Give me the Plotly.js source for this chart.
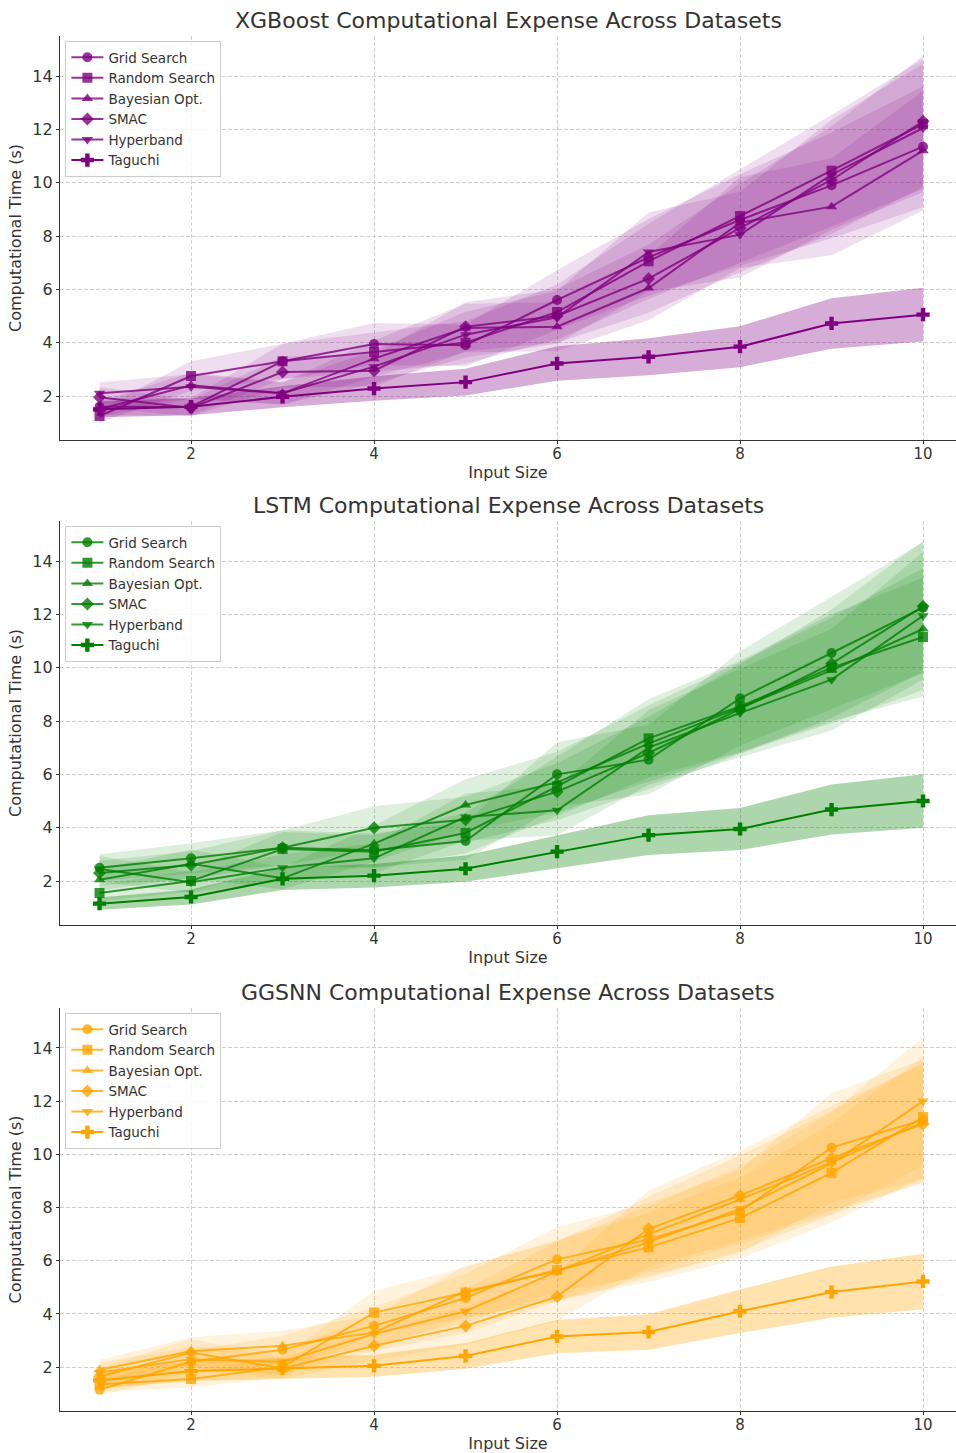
<!DOCTYPE html>
<html>
<head>
<meta charset="utf-8">
<script src="https://cdn.plot.ly/plotly-3.0.1.min.js"></script>
<style>html,body{margin:0;padding:0;background:#fff}#chart{width:956px;height:1453px}</style>
</head>
<body>
<div id="chart"></div>
<script>
// ---------- data ----------
const inputSizes = [1, 2, 3, 4, 5, 6, 7, 8, 9, 10];
const methods = ["Grid Search", "Random Search", "Bayesian Opt.", "SMAC", "Hyperband", "Taguchi"];
const modelNames = ["XGBoost", "LSTM", "GGSNN"];

// XGBoost
const xgbGrid      = [1.6, 1.6, 3.3, 3.95, 3.9, 5.6, 7.2, 8.6, 9.9, 11.35];
const xgbRandom    = [1.25, 2.75, 3.3, 3.65, 4.0, 5.15, 7.05, 8.75, 10.45, 12.2];
const xgbBayes     = [1.5, 2.4, 2.1, 3.4, 4.55, 4.6, 6.05, 8.5, 9.1, 11.2];
const xgbSmac      = [1.95, 1.55, 2.9, 2.95, 4.6, 5.0, 6.4, 8.3, 10.1, 12.3];
const xgbHyperband = [2.1, 2.35, 2.1, 3.1, 4.3, 4.95, 7.4, 8.05, 10.3, 12.05];
const xgbTaguchi   = [1.5, 1.6, 1.97, 2.28, 2.52, 3.22, 3.47, 3.85, 4.72, 5.05];

// LSTM
const lstmGrid      = [2.5, 2.85, 3.25, 3.15, 3.5, 6.0, 6.55, 8.85, 10.55, 12.25];
const lstmRandom    = [1.55, 2.0, 3.2, 3.1, 3.8, 5.55, 7.35, 8.55, 10.0, 11.15];
const lstmBayes     = [2.05, 2.65, 2.1, 3.4, 4.85, 5.7, 7.15, 8.5, 9.9, 11.45];
const lstmSmac      = [2.3, 2.6, 3.25, 4.0, 4.3, 5.35, 6.8, 8.45, 10.15, 12.3];
const lstmHyperband = [2.45, 1.95, 2.5, 2.85, 4.4, 4.65, 7.0, 8.3, 9.55, 11.95];
const lstmTaguchi   = [1.15, 1.4, 2.08, 2.2, 2.46, 3.1, 3.72, 3.95, 4.68, 5.0];

// GGSNN
const ggGrid      = [1.15, 2.2, 2.65, 3.55, 4.6, 6.05, 6.8, 7.85, 10.25, 11.3];
const ggRandom    = [1.35, 1.55, 2.0, 4.05, 4.8, 5.65, 6.5, 7.6, 9.3, 11.4];
const ggBayes     = [1.9, 2.6, 2.8, 3.3, 4.85, 5.6, 7.0, 8.3, 9.7, 11.2];
const ggSmac      = [1.65, 2.55, 1.95, 2.8, 3.55, 4.65, 7.2, 8.45, 9.85, 11.15];
const ggHyperband = [1.8, 2.3, 2.2, 3.25, 4.1, 5.6, 6.7, 7.95, 9.65, 12.0];
const ggTaguchi   = [1.5, 1.85, 1.95, 2.05, 2.42, 3.15, 3.32, 4.1, 4.82, 5.22];

const bandFraction = 0.2; // shaded band = value ± 20%
const xTicks = [2, 4, 6, 8, 10];
const yTicks = [2, 4, 6, 8, 10, 12, 14];

// ---------- styling ----------
const modelSeries = [
  [xgbGrid, xgbRandom, xgbBayes, xgbSmac, xgbHyperband, xgbTaguchi],
  [lstmGrid, lstmRandom, lstmBayes, lstmSmac, lstmHyperband, lstmTaguchi],
  [ggGrid, ggRandom, ggBayes, ggSmac, ggHyperband, ggTaguchi]
];
const rgb = [[128, 0, 128], [0, 128, 0], [255, 165, 0]];
const symbols = ["circle", "square", "triangle-up", "diamond", "triangle-down", "cross"];
const font = "DejaVu Sans, sans-serif";
const textColor = "#333333";

function rgba(c, a) { return `rgba(${c[0]},${c[1]},${c[2]},${a})`; }

const traces = [];
modelSeries.forEach((series, p) => {
  const ax = p === 0 ? "" : String(p + 1);
  const c = rgb[p];
  series.forEach((vals, i) => {
    const isT = i === 5;
    const upper = vals.map(v => v * (1 + bandFraction));
    const lower = vals.map(v => v * (1 - bandFraction));
    traces.push({
      x: inputSizes.concat(inputSizes.slice().reverse()),
      y: upper.concat(lower.slice().reverse()),
      fill: "toself", mode: "lines",
      line: {width: 0, color: "rgba(0,0,0,0)"},
      fillcolor: rgba(c, isT ? 0.32 : 0.13),
      hoverinfo: "skip", showlegend: false,
      xaxis: "x" + ax, yaxis: "y" + ax
    });
  });
  series.forEach((vals, i) => {
    const isT = i === 5;
    traces.push({
      x: inputSizes, y: vals, name: methods[i],
      mode: "lines+markers",
      line: {color: rgba(c, isT ? 1 : 0.8), width: 2},
      marker: {symbol: symbols[i], size: isT ? 11 : 10, color: rgba(c, isT ? 1 : 0.8), line: {width: 0}},
      xaxis: "x" + ax, yaxis: "y" + ax,
      legend: p === 0 ? "legend" : "legend" + (p + 1)
    });
  });
});

const H = 1453, mt = 36, mb = 42, ph = H - mt - mb;
const panels = [[36, 440], [521, 925], [1008, 1411]];
function dom(t, b) { return [(H - mb - b) / ph, (H - mb - t) / ph]; }

const layout = {
  width: 956, height: H,
  margin: {l: 60, r: 0, t: mt, b: mb},
  paper_bgcolor: "#fff", plot_bgcolor: "#fff",
  font: {family: font, color: textColor, size: 14},
  annotations: []
};

panels.forEach((pp, p) => {
  const ax = p === 0 ? "" : String(p + 1);
  const d = dom(pp[0], pp[1]);
  layout["xaxis" + ax] = {
    domain: [0, 1], range: [0.568, 10.36], anchor: "y" + ax,
    tickvals: xTicks, ticks: "outside", ticklen: 3, tickcolor: "#333",
    ticklabelstandoff: -3,
    showline: true, linecolor: "#333", linewidth: 1.2,
    showgrid: true, gridcolor: "#cfcfcf", griddash: "4px,2px", gridwidth: 1,
    zeroline: false, tickfont: {size: 15, color: textColor},
    title: {text: "Input Size", font: {size: 16, color: textColor}, standoff: 4}
  };
  layout["yaxis" + ax] = {
    domain: d, range: [0.35, 15.5], anchor: "x" + ax,
    tickvals: yTicks, ticks: "outside", ticklen: 3, tickcolor: "#333",
    showline: true, linecolor: "#333", linewidth: 1.2,
    showgrid: true, gridcolor: "#cfcfcf", griddash: "4px,2px", gridwidth: 1,
    zeroline: false, tickfont: {size: 16, color: textColor},
    title: {text: "Computational Time (s)", font: {size: 16, color: textColor}, standoff: 6}
  };
  const leg = {
    x: 0.006, y: d[1] - 5 / ph, xanchor: "left", yanchor: "top",
    bgcolor: "rgba(255,255,255,0.85)", bordercolor: "#cccccc", borderwidth: 1,
    font: {size: 13.5, color: textColor}, tracegroupgap: 0, itemwidth: 32
  };
  layout[p === 0 ? "legend" : "legend" + (p + 1)] = leg;
  layout.annotations.push({
    text: modelNames[p] + " Computational Expense Across Datasets",
    xref: "paper", yref: "paper", x: 0.5, y: d[1], yshift: 1,
    xanchor: "center", yanchor: "bottom", showarrow: false,
    font: {size: 22, color: textColor, family: font}
  });
});

Plotly.newPlot("chart", traces, layout, {displayModeBar: false, staticPlot: true});
</script>
</body>
</html>
